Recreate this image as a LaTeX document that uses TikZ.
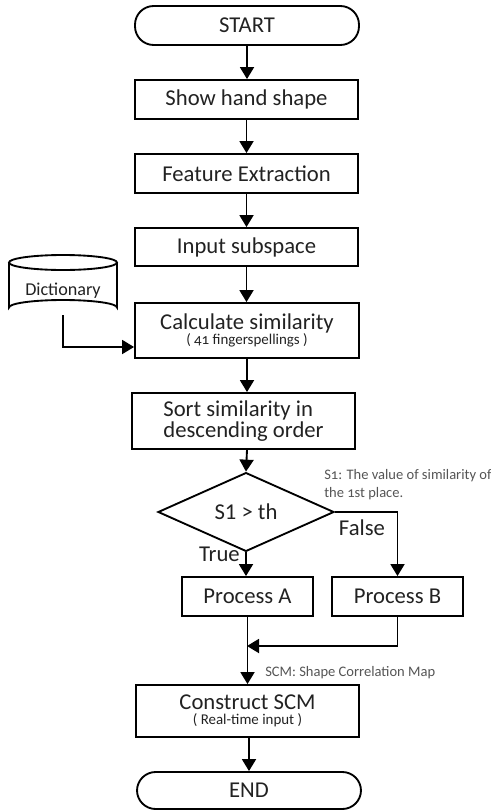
\documentclass[tikz,border=0pt]{standalone}
\usepackage{fontspec}
\setmainfont{Carlito}
\newfontfamily\oldfont[Numbers=OldStyle]{Carlito}
\usetikzlibrary{shapes.geometric,arrows.meta}
\newdimen\pxu \pxu=0.75pt
\newcommand{\mainsz}{\fontsize{17}{13.5}\selectfont}
\newcommand{\subsz}{\oldfont\fontsize{11.2}{11}\selectfont}
\newcommand{\notesz}{\oldfont\fontsize{10.9}{14}\selectfont}
\definecolor{inkc}{HTML}{222222}
\definecolor{notec}{HTML}{555555}
\begin{document}
\begin{tikzpicture}[x=0.75pt,y=-0.75pt,
  box/.style={draw, line width=1.4pt, minimum width=223\pxu, minimum height=39\pxu, inner sep=0pt, font=\mainsz, text=inkc, align=center},
  term/.style={box, rounded corners=14pt},
  arr/.style={-{Triangle[length=9pt,width=10.5pt]}, line width=1.4pt},
  ln/.style={line width=1.4pt},
  lab/.style={font=\mainsz, text=inkc, inner sep=0pt},
  note/.style={font=\notesz, text=notec, inner sep=0pt, anchor=west, align=left}]
\useasboundingbox (0,0) rectangle (491,811);

\node[term, minimum width=224\pxu] (start) at (247,25.5) {START};
\node[box] (show) at (246.5,99.5) {Show hand shape};
\node[box] (feat) at (246.5,173.5) {Feature Extraction};
\node[box, minimum height=38\pxu] (input) at (246.5,247) {Input subspace};
\node[box, minimum width=224\pxu, minimum height=55\pxu] (calc) at (247,330.5) {Calculate similarity\\[-2pt]{\subsz ( 41 fingerspellings )}};
\node[box, minimum height=56\pxu, align=left] (sort) at (243.5,421) {Sort similarity in\\descending order};
\node[draw, diamond, line width=1.4pt, minimum width=176\pxu, minimum height=62\pxu, inner sep=0pt, font=\mainsz, text=inkc] (dec) at (246,512) {S1 > th};
\node[box, minimum width=131\pxu] (pa) at (247.5,596.5) {Process A};
\node[box, minimum width=131\pxu] (pb) at (397.5,596.5) {Process B};
\node[box, minimum height=52\pxu] (scm) at (247.5,711) {Construct SCM\\[-2pt]{\subsz ( Real-time input )}};
\node[term, minimum width=224\pxu, minimum height=37\pxu] (end) at (249,790.5) {END};

% dictionary cylinder
\draw[ln, fill=white] (9,262.5) -- (9,307.5) arc (180:360:54 and 7.5) -- (117,262.5);
\draw[ln] (63,262.5) ellipse (54 and 7.5);
\node[font=\fontsize{13.6}{14}\selectfont, text=inkc, inner sep=0pt] (dict) at (63,291) {Dictionary};
\coordinate (dictb) at (63,315);
\coordinate (dictc) at (63,347);

% connectors
\draw[arr] (start.south) -- (start.south |- show.north);
\draw[arr] (show.south) -- (show.south |- feat.north);
\draw[arr] (feat.south) -- (feat.south |- input.north);
\draw[arr] (input.south) -- (input.south |- calc.north);
\draw[arr] (dictb) -- (dictc) -- (dictc -| calc.west);
\draw[arr] (calc.south) -- (calc.south |- sort.north);
\draw[arr] (calc.south |- sort.south) -- (dec.north);
\draw[arr] (dec.east) -- (dec.east -| pb.north) -- (pb.north);
\draw[arr] (dec.south) -- (dec.south |- pa.north);
\coordinate (merge) at (247,646);
\draw[arr] (pb.south) -- (pb.south |- merge) -- (merge);
\draw[arr] (pa.south) -- (pa.south |- scm.north);
\draw[arr] (end.north |- scm.south) -- (end.north);

% labels
\node[lab, anchor=east] (tlab) at (240,554) {True};
\node[lab] (flab) at (362,528) {False};
\node[note] (n1) at (324,484.5) {S1: The value of similarity of\\the 1st place.};
\node[note] (n2) at (265,673) {SCM: Shape Correlation Map};
\end{tikzpicture}
\end{document}
